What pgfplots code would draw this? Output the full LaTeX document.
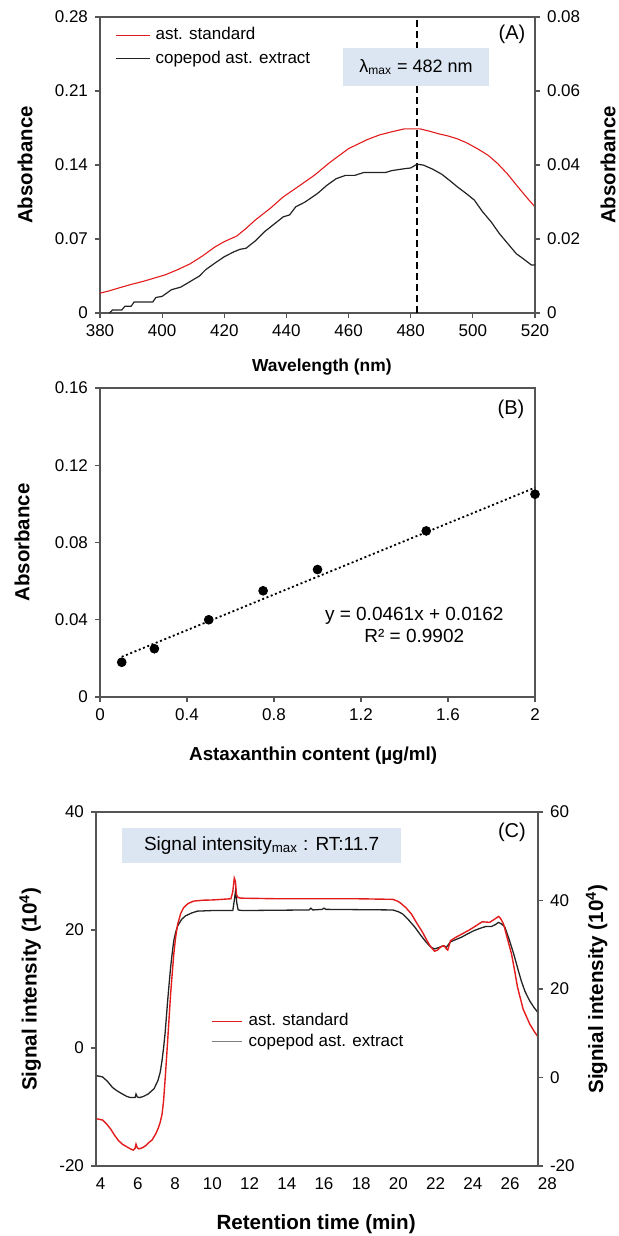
\documentclass[border=0pt]{standalone}
\usepackage{fontspec}
\setmainfont{Liberation Sans}
\usepackage{pgfplots}
\pgfplotsset{compat=1.18}

\definecolor{axiscol}{RGB}{85,85,85}
\definecolor{redline}{RGB}{226,28,28}
\definecolor{darkline}{RGB}{35,35,35}
\definecolor{greyline}{RGB}{128,128,128}
\definecolor{boxblue}{RGB}{220,230,242}

\newcommand{\tk}{\fontsize{8.5}{10}\selectfont}
\newcommand{\pl}{\fontsize{10}{12}\selectfont}
\newcommand{\labY}{\fontsize{10.2}{12}\selectfont\bfseries}

\pgfplotsset{
  base/.style={
    scale only axis, anchor=south west,
    axis line style={draw=axiscol, line width=0.6pt},
    tick style={draw=axiscol, line width=0.6pt},
    major tick length=2.5pt, tick align=outside,
    tick label style={font=\tk},
    /pgf/number format/assume math mode=true,
    scaled ticks=false,
    legend cell align=left,
  },
  fix2/.style={/pgf/number format/fixed, /pgf/number format/precision=2},
}

\begin{document}
\begin{tikzpicture}
\path[use as bounding box] (0,0) rectangle (309.5pt,-618pt);

% ---------- (A) spectra
\begin{axis}[base, at={(50pt,-156.5pt)}, width=217.5pt, height=148pt,
  xmin=380, xmax=520, ymin=0, ymax=0.28,
  xtick={380,400,420,440,460,480,500,520},
  ytick={0,0.07,0.14,0.21,0.28}, yticklabel style={fix2},
  tick pos=left,
  xlabel={Wavelength (nm)}, ylabel={Absorbance},
  xlabel style={font=\fontsize{8.7}{10}\selectfont\bfseries, at={(axis description cs:0.51,-0.182)}, anchor=center},
  ylabel style={font=\labY, at={(axis description cs:-0.172,0.5)}, anchor=center},
  legend style={at={(axis description cs:0.03,0.979)}, anchor=north west, draw=none, fill=none,
    font=\tk, row sep=2pt, inner sep=1pt, nodes={inner sep=1pt}},
]
\addplot[black, line width=0.9pt, dash pattern=on 3.5pt off 2pt, forget plot] coordinates {(482,0)(482,0.28)};
\addplot[color=redline, line width=0.55pt, forget plot] coordinates {
  (380,0.0188)(383,0.021)(387,0.0245)(390,0.027)(394,0.030)(398,0.0335)(401,0.0361)
  (405,0.041)(409,0.0465)(413,0.054)(417,0.0625)(420,0.0675)(424,0.0728)(427,0.080)
  (430,0.088)(435,0.0995)(439,0.1099)(444,0.120)(449,0.1303)(454,0.1425)(460,0.1555)
  (466,0.164)(470,0.1685)(474,0.1715)(478,0.1742)(483,0.1742)(486,0.172)(489,0.1695)
  (492,0.1675)(495,0.1648)(498,0.161)(501.5,0.1554)(505,0.149)(508,0.1413)(511,0.132)
  (514.5,0.1193)(518,0.107)(520,0.1004)
};
\addlegendimage{legend image code/.code={\draw[redline, line width=0.6pt] (0pt,0pt) -- (17pt,0pt); \path (18.5pt,0pt);}}
\addlegendentry{ast. standard}
\addlegendimage{legend image code/.code={\draw[darkline, line width=0.7pt] (0pt,0pt) -- (17pt,0pt); \path (18.5pt,0pt);}}
\addlegendentry{copepod ast. extract}
\fill[boxblue] (axis cs:458.2,0.2147) rectangle (axis cs:505.2,0.2507);
\node[font=\fontsize{9}{10}\selectfont] at (axis cs:481.7,0.2327) {λ\textsubscript{max} = 482 nm};
\node[font=\pl] at (axis cs:512.6,0.264) {(A)};
\end{axis}
\begin{axis}[base, at={(50pt,-156.5pt)}, width=217.5pt, height=148pt,
  xmin=380, xmax=520, ymin=0, ymax=0.08,
  axis x line=none, axis y line*=right, axis line style={-},
  ytick={0,0.02,0.04,0.06,0.08}, yticklabel style={fix2},
  ylabel={Absorbance},
  ylabel style={font=\labY, at={(axis description cs:1.168,0.5)}, anchor=center},
]
\addplot[color=darkline, line width=0.6pt] coordinates {
  (383,0)(384,0.0008)(387,0.0008)(388,0.0018)(390,0.0018)(391,0.003)(397,0.003)
  (398,0.0042)(400,0.0045)(403,0.0063)(406,0.007)(409,0.0085)(412,0.010)(414,0.0117)
  (417,0.0135)(420,0.0152)(423,0.0165)(425,0.0172)(427,0.0175)(430,0.0195)(433,0.022)
  (436,0.024)(439,0.026)(441,0.0265)(443,0.0287)(446,0.030)(450,0.0323)(453,0.0345)
  (456,0.0363)(459,0.0372)(462,0.0372)(465,0.038)(472,0.038)(474,0.0385)(478,0.039)
  (480,0.0392)(482,0.0402)(484,0.040)(487,0.0389)(490,0.0375)(493,0.0355)(495,0.0341)
  (498,0.0322)(500.5,0.0305)(503,0.0275)(506,0.0245)(508.5,0.0215)(511,0.019)
  (514,0.016)(516,0.0148)(518.8,0.013)(520,0.013)
};
\end{axis}

% ---------- (B) calibration
\begin{axis}[base, at={(50pt,-348.5pt)}, width=217.5pt, height=154.5pt,
  xmin=0, xmax=2, ymin=0, ymax=0.16, clip=false,
  xtick={0,0.4,0.8,1.2,1.6,2}, xticklabel style={/pgf/number format/fixed, /pgf/number format/precision=1},
  ytick={0,0.04,0.08,0.12,0.16}, yticklabel style={fix2},
  tick pos=left,
  xlabel={Astaxanthin content (µg/ml)}, ylabel={Absorbance},
  xlabel style={font=\fontsize{9.4}{11}\selectfont\bfseries, at={(axis description cs:0.49,-0.19)}, anchor=center},
  ylabel style={font=\labY, at={(axis description cs:-0.179,0.5)}, anchor=center},
]
\addplot[black, line width=0.9pt, dash pattern=on 1pt off 1.3pt] coordinates {(0.1,0.0208)(2,0.1084)};
\addplot[only marks, mark=*, mark size=2.2pt, black] coordinates {
  (0.1,0.018)(0.25,0.025)(0.5,0.040)(0.75,0.055)(1.0,0.066)(1.5,0.086)(2.0,0.105)
};
\node[font=\fontsize{9.5}{11}\selectfont, align=center] at (axis cs:1.445,0.0375) {y = 0.0461x + 0.0162\\R² = 0.9902};
\node[font=\pl] at (axis cs:1.89,0.149) {(B)};
\end{axis}

% ---------- (C) chromatogram
\begin{axis}[base, at={(48pt,-583pt)}, width=221pt, height=177pt,
  xmin=3.75, xmax=27.5, ymin=-20, ymax=40, clip=false,
  xtick={4,6,...,26}, ytick={-20,0,20,40}, xtick style={draw=none},
  tick pos=left,
  xlabel={Retention time (min)}, ylabel={Signal intensity (10\textsuperscript{4})},
  xlabel style={font=\fontsize{10.3}{12}\selectfont\bfseries, at={(axis description cs:0.498,-0.163)}, anchor=center},
  ylabel style={font=\fontsize{10.3}{12}\selectfont\bfseries, at={(axis description cs:-0.149,0.5)}, anchor=center},
  legend style={at={(axis description cs:0.256,0.443)}, anchor=north west, draw=none, fill=none,
    font=\tk, row sep=0.5pt, inner sep=1pt, nodes={inner sep=1pt}},
]
\addplot[color=darkline, line width=0.65pt, forget plot] coordinates {
  (3.79,-4.7)(4.1,-4.9)(4.35,-5.6)(4.64,-6.7)(4.9,-7.3)(5.17,-7.8)(5.4,-8.2)(5.6,-8.4)
  (5.85,-8.4)(5.9,-7.8)(5.97,-8.3)(6.1,-8.4)(6.3,-8.2)(6.55,-7.8)(6.87,-6.9)(7.08,-5.5)
  (7.2,-4.1)(7.3,-2.1)(7.38,0)(7.46,2.4)(7.53,5.2)(7.6,8.0)(7.68,10.9)(7.76,13.7)
  (7.85,16.2)(7.93,18.2)(8.03,19.6)(8.14,20.7)(8.35,21.8)(8.56,22.4)(8.9,22.9)(9.2,23.2)
  (10,23.3)(11.1,23.3)(11.18,25)(11.25,26.7)(11.32,24.5)(11.39,23.4)(11.6,23.3)
  (15.2,23.4)(15.3,23.7)(15.4,23.4)(15.9,23.5)(16.0,23.7)(16.1,23.5)(19.7,23.4)
  (20.0,23.1)(20.24,22.7)(20.55,21.7)(20.88,20.5)(21.2,19.1)(21.5,17.9)(21.75,17.1)
  (21.94,16.8)(22.15,17.0)(22.37,17.3)(22.5,17.2)(22.58,17.1)(22.8,18.0)(23.1,18.4)
  (23.4,18.8)(23.75,19.4)(24.06,19.9)(24.4,20.3)(24.7,20.6)(25.0,20.6)(25.2,20.9)
  (25.38,21.3)(25.55,21.0)(25.72,20.5)(25.95,18.4)(26.2,15.9)(26.4,13.6)(26.6,11.4)
  (26.8,9.6)(27.05,8.0)(27.3,6.8)(27.5,6.0)
};
\addplot[color=redline, line width=0.7pt, forget plot] coordinates {
  (3.79,-12.0)(4.1,-12.2)(4.3,-12.8)(4.53,-13.7)(4.75,-14.8)(4.96,-15.7)(5.17,-16.3)
  (5.38,-16.7)(5.6,-17.1)(5.75,-17.3)(5.85,-17.0)(5.9,-16.3)(5.97,-16.9)(6.05,-17.1)
  (6.25,-16.9)(6.44,-16.5)(6.6,-16.0)(6.76,-15.6)(6.95,-14.6)(7.08,-13.7)(7.2,-12.6)
  (7.3,-11.2)(7.38,-9)(7.46,-5.5)(7.53,-2.2)(7.6,1.2)(7.68,5.2)(7.76,9.2)(7.85,12.8)
  (7.93,15.9)(8.03,18.8)(8.14,21.0)(8.3,22.8)(8.46,23.8)(8.7,24.5)(9.0,24.9)(9.5,25.05)
  (10.05,25.1)(11.0,25.3)(11.1,26.5)(11.18,28.8)(11.24,28.3)(11.3,26)(11.38,25.5)
  (11.54,25.4)(13.45,25.3)(17.7,25.3)(19.7,25.2)(19.95,24.9)(20.1,24.6)(20.4,23.8)
  (20.7,22.7)(21.0,21.1)(21.3,19.6)(21.5,18.4)(21.7,17.3)(21.94,16.4)(22.1,16.6)
  (22.26,17.1)(22.4,17.3)(22.47,17.3)(22.58,16.8)(22.65,16.6)(22.8,18.2)(23.1,18.8)
  (23.4,19.3)(23.75,19.9)(24.06,20.5)(24.5,21.4)(24.9,21.3)(25.15,21.8)(25.38,22.3)
  (25.5,21.9)(25.65,21.0)(25.85,18.6)(26.08,15.9)(26.25,13)(26.4,10.3)(26.7,6.6)
  (27.05,4.1)(27.3,2.8)(27.5,1.9)
};
\addlegendimage{legend image code/.code={\draw[redline, line width=0.75pt] (0pt,0pt) -- (15pt,0pt); \path (17pt,0pt);}}
\addlegendentry{ast. standard}
\addlegendimage{legend image code/.code={\draw[greyline, line width=0.75pt] (0pt,0pt) -- (15pt,0pt); \path (17pt,0pt);}}
\addlegendentry{copepod ast. extract}
\fill[boxblue] (axis cs:5.15,31.4) rectangle (axis cs:20.15,37.3);
\node[font=\fontsize{9.5}{11}\selectfont] at (axis cs:12.65,34.35) {Signal intensity\textsubscript{max} : RT:11.7};
\node[font=\pl] at (axis cs:26.1,36.6) {(C)};
\node[font=\tk, anchor=north, yshift=-2.5pt] at (axis cs:28,-20) {28};
\end{axis}
\begin{axis}[base, at={(48pt,-583pt)}, width=221pt, height=177pt,
  xmin=3.75, xmax=27.5, ymin=-20, ymax=60,
  axis x line=none, axis y line*=right, axis line style={-},
  ytick={-20,0,20,40,60},
  ylabel={Signial intensity (10\textsuperscript{4})},
  ylabel style={font=\fontsize{10.3}{12}\selectfont\bfseries, at={(axis description cs:1.133,0.5)}, anchor=center},
]
\end{axis}
\end{tikzpicture}
\end{document}
